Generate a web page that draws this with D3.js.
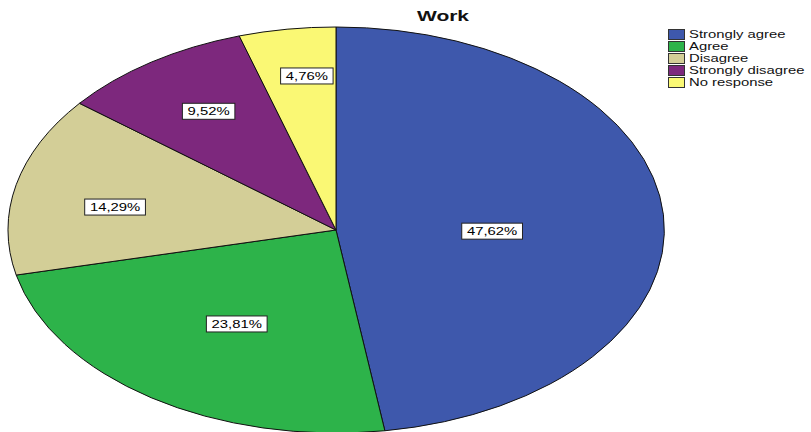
<!DOCTYPE html>
<html><head><meta charset="utf-8">
<script src="https://cdn.jsdelivr.net/npm/d3@7"></script>
<style>body{margin:0;background:#fff}svg{display:block}</style>
</head><body>
<svg id="chart" width="811" height="432"></svg>
<script>
const title = "Work";
const categories = ["Strongly agree","Agree","Disagree","Strongly disagree","No response"];
const values = [47.62, 23.81, 14.29, 9.52, 4.76];
const valueLabels = ["47,62%","23,81%","14,29%","9,52%","4,76%"];
const colors = ["#3E58AC","#2DB34A","#D3CE97","#7D287D","#FAF874"];
const labelRadius = [0.476, 0.553, 0.683, 0.702, 0.764];
const labelAngleFrac = [0.529, 0.487, 0.435, 0.52, 0.61];

const svg = d3.select("#chart");
const cx = 336, cy = 230, rx = 328, ry = 203;
const stretch = 1.35;

const pie = d3.pie().sort(null).value(d => d).startAngle(0).endAngle(2*Math.PI);
const arcs = pie(values);
const arc = d3.arc().innerRadius(0).outerRadius(1);

const g = svg.append("g").attr("transform", `translate(${cx},${cy}) scale(${rx},${ry})`);
g.selectAll("path").data(arcs).enter().append("path")
  .attr("d", arc)
  .attr("fill", (d,i) => colors[i])
  .attr("stroke", "#111")
  .attr("stroke-width", 1)
  .attr("vector-effect", "non-scaling-stroke");

// labels
const lab = svg.append("g");
arcs.forEach((d,i) => {
  const a = d.startAngle + (d.endAngle - d.startAngle)*labelAngleFrac[i];
  const x = cx + Math.sin(a)*rx*labelRadius[i];
  const y = cy - Math.cos(a)*ry*labelRadius[i];
  const lg = lab.append("g").attr("transform", `translate(${x},${y})`);
  const t = lg.append("text").attr("text-anchor","middle").attr("dy","0.36em")
    .attr("font-family","Liberation Sans, Arial, sans-serif").attr("font-size",11)
    .attr("transform", `scale(${stretch},1)`).attr("fill","#000").text(valueLabels[i]);
  const bb = t.node().getBBox();
  const w = bb.width*stretch + 10, h = 16;
  lg.insert("rect","text").attr("x",-w/2).attr("y",-h/2).attr("width",w).attr("height",h)
    .attr("fill","#fff").attr("stroke","#222").attr("stroke-width",1);
});

// title
svg.append("text").attr("transform", `translate(443,21) scale(1.5,1)`)
  .attr("text-anchor","middle").attr("font-family","Liberation Sans, Arial, sans-serif")
  .attr("font-weight","bold").attr("font-size",14).attr("fill","#111").text(title);

// legend
const legend = svg.append("g").attr("transform","translate(668,29)");
const rowH = 12;
categories.forEach((c,i) => {
  const row = legend.append("g").attr("transform",`translate(0,${i*rowH})`);
  row.append("rect").attr("x",0.5).attr("y",0.5).attr("width",16).attr("height",10)
    .attr("fill",colors[i]).attr("stroke","#333").attr("stroke-width",1);
  row.append("text").attr("transform",`translate(21,5.5) scale(${stretch},1)`)
    .attr("dy","0.36em").attr("font-family","Liberation Sans, Arial, sans-serif")
    .attr("font-size",11).attr("fill","#111").text(c);
});
</script>
</body></html>
